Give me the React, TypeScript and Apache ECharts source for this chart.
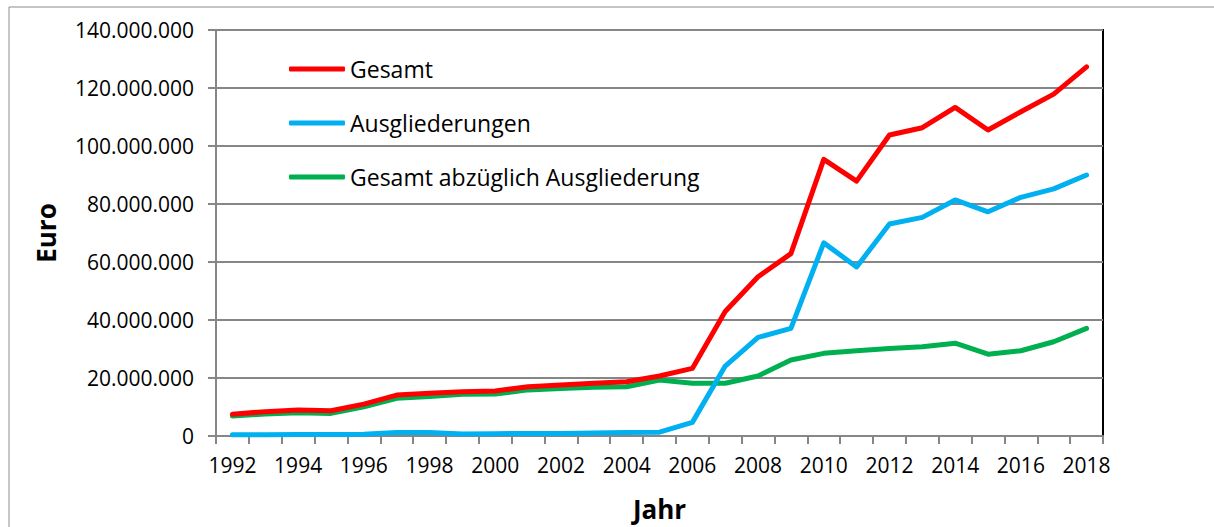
import React, { useEffect, useRef } from "react";
import * as echarts from "echarts";

const years = [
  "1992", "1993", "1994", "1995", "1996", "1997", "1998", "1999", "2000", "2001",
  "2002", "2003", "2004", "2005", "2006", "2007", "2008", "2009", "2010", "2011",
  "2012", "2013", "2014", "2015", "2016", "2017", "2018",
];

const gesamt = [
  7.5, 8.4, 9.0, 8.7, 11.0, 14.1, 14.7, 15.3, 15.5, 17.0,
  17.6, 18.2, 18.7, 20.7, 23.3, 42.9, 54.9, 62.9, 95.4, 87.9,
  103.8, 106.3, 113.3, 105.5, 111.8, 117.9, 127.3,
].map((v) => v * 1e6);

const ausgliederungen = [
  0.4, 0.4, 0.5, 0.5, 0.6, 1.2, 1.2, 0.7, 0.8, 0.9,
  0.9, 1.0, 1.2, 1.3, 4.7, 24.1, 34.0, 37.1, 66.6, 58.3,
  73.1, 75.4, 81.4, 77.3, 82.3, 85.2, 90.0,
].map((v) => v * 1e6);

const abzueglich = [
  6.9, 7.6, 8.0, 7.8, 10.1, 13.0, 13.6, 14.4, 14.5, 15.9,
  16.4, 16.8, 17.0, 19.3, 18.2, 18.2, 20.7, 26.2, 28.5, 29.4,
  30.2, 30.8, 32.0, 28.2, 29.4, 32.5, 37.1,
].map((v) => v * 1e6);

const seriesNames = ["Gesamt", "Ausgliederungen", "Gesamt abzüglich Ausgliederung"];
const seriesColors = ["#FF0000", "#00B0F0", "#00B050"];

const FONT = "Open Sans";

function fmt(v: number) {
  return String(Math.round(v)).replace(/\B(?=(\d{3})+(?!\d))/g, ".");
}

export default function App() {
  const ref = useRef<HTMLDivElement>(null);
  useEffect(() => {
    if (!ref.current) return;
    const chart = echarts.init(ref.current, null, { renderer: "svg" });
    const dataSets = [gesamt, ausgliederungen, abzueglich];
    chart.setOption({
      animation: false,
      backgroundColor: "#ffffff",
      textStyle: { fontFamily: FONT },
      graphic: [
        {
          type: "rect",
          shape: { x: 9, y: 7, width: 1400, height: 800 },
          style: { fill: "none", stroke: "#8c8c8c", lineWidth: 1 },
          silent: true,
        },
      ],
      grid: {
        left: 216,
        top: 30,
        right: 111,
        bottom: 91,
        show: true,
        borderColor: "#000000",
        borderWidth: 2,
        containLabel: false,
      },
      legend: {
        orient: "vertical",
        left: 284,
        top: 52,
        itemWidth: 56,
        itemHeight: 5,
        itemGap: 30,
        icon: "roundRect",
        data: seriesNames,
        textStyle: { fontFamily: FONT, fontSize: 23, color: "#000", lineHeight: 24 },
      },
      xAxis: {
        type: "category",
        data: years,
        boundaryGap: true,
        name: "Jahr",
        nameLocation: "middle",
        nameGap: 60,
        nameTextStyle: { fontFamily: FONT, fontSize: 26, fontWeight: "bold", color: "#000" },
        axisLine: { show: true, lineStyle: { color: "#868686", width: 2 } },
        axisTick: { show: true, interval: 0, length: 8, lineStyle: { color: "#868686", width: 2 } },
        axisLabel: { interval: 1, margin: 18, fontFamily: FONT, fontSize: 21, color: "#000" },
        splitLine: { show: false },
      },
      yAxis: {
        type: "value",
        min: 0,
        max: 140000000,
        interval: 20000000,
        name: "Euro",
        nameLocation: "middle",
        nameGap: 157,
        nameRotate: 90,
        nameTextStyle: { fontFamily: FONT, fontSize: 26, fontWeight: "bold", color: "#000" },
        axisLine: { show: true, lineStyle: { color: "#868686", width: 2 } },
        axisTick: { show: true, length: 8, lineStyle: { color: "#868686", width: 2 } },
        axisLabel: { margin: 22, fontFamily: FONT, fontSize: 21, color: "#000", formatter: (v: number) => fmt(v) },
        splitLine: { show: true, lineStyle: { color: "#868686", width: 2 } },
      },
      series: dataSets.map((d, i) => ({
        name: seriesNames[i],
        type: "line",
        data: d,
        symbol: "none",
        color: seriesColors[i],
        lineStyle: { color: seriesColors[i], width: 5, cap: "round", join: "round" },
        z: 5 - i,
      })),
    });
    return () => chart.dispose();
  }, []);
  return (
    <div
      ref={ref}
      style={{ position: "absolute", left: 0, top: 0, width: 1214, height: 527 }}
    />
  );
}
